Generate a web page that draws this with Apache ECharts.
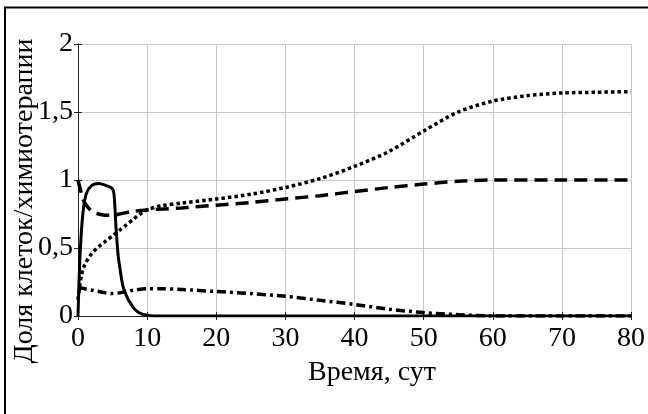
<!DOCTYPE html>
<html>
<head>
<meta charset="utf-8">
<script src="https://cdn.jsdelivr.net/npm/echarts@6/dist/echarts.min.js"></script>
<style>html,body{margin:0;padding:0;background:#fff}#c{width:648px;height:414px}</style>
</head>
<body>
<div id="c"></div>
<script>
var xTicks = [0, 10, 20, 30, 40, 50, 60, 70, 80];
var yTicks = ['0', '0,5', '1', '1,5', '2'];
var yTitle = 'Доля клеток/химиотерапии';
var xTitle = 'Время, сут';

// solid: chemotherapy
var solidT = [0, 0.3, 0.7, 1.2, 2, 3, 4, 4.9, 5.2, 5.5, 5.8, 6.1, 6.5, 7, 7.5, 8.2, 9, 10, 11, 20, 40, 60, 80];
var solidV = [0, 0.45, 0.75, 0.9, 0.96, 0.975, 0.96, 0.94, 0.9, 0.65, 0.45, 0.34, 0.22, 0.15, 0.1, 0.05, 0.02, 0.005, 0, 0, 0, 0, 0];

// dashed
var dashT = [0, 0.5, 1, 2, 3, 4, 5, 6, 8, 10, 15, 20, 25, 30, 35, 40, 45, 50, 55, 60, 70, 80];
var dashV = [1.0, 0.9, 0.83, 0.77, 0.75, 0.74, 0.74, 0.75, 0.77, 0.78, 0.795, 0.815, 0.835, 0.86, 0.885, 0.915, 0.945, 0.97, 0.99, 1.0, 1.0, 1.0];

// dotted
var dotT = [0, 0.5, 1, 2, 3, 4, 5, 6, 7, 8, 9, 10, 12, 15, 20, 25, 30, 35, 40, 45, 50, 55, 60, 65, 70, 75, 80];
var dotV = [0.12, 0.3, 0.38, 0.46, 0.51, 0.55, 0.59, 0.63, 0.67, 0.71, 0.75, 0.78, 0.81, 0.83, 0.86, 0.895, 0.945, 1.01, 1.1, 1.21, 1.36, 1.5, 1.58, 1.62, 1.64, 1.645, 1.65];

// dash-dot
var ddT = [0, 1, 2, 3, 4, 5, 6, 7, 8, 10, 12, 15, 20, 25, 30, 35, 40, 45, 50, 55, 60, 70, 80];
var ddV = [0.21, 0.2, 0.19, 0.18, 0.17, 0.165, 0.17, 0.18, 0.19, 0.2, 0.2, 0.195, 0.18, 0.165, 0.145, 0.115, 0.085, 0.05, 0.025, 0.01, 0, 0, 0];

function pairs(t, v) { return t.map(function (x, i) { return [x, v[i]]; }); }

var FONT = '"Liberation Serif", "Times New Roman", serif';
var chart = echarts.init(document.getElementById('c'), null, {renderer: 'canvas'});

function lineSeries(name, t, v, type, width) {
  return {
    name: name, type: 'line', data: pairs(t, v), showSymbol: false, smooth: 0.3,
    xAxisIndex: 0, yAxisIndex: 0,
    lineStyle: {color: '#000', width: width, type: type, cap: 'butt'},
    clip: true, animation: false
  };
}

var baseX = {type: 'value', min: 0, max: 80, interval: 10};
var baseY = {type: 'value', min: 0, max: 2, interval: 0.5};

chart.setOption({
  animation: false,
  backgroundColor: '#fff',
  grid: {left: 78, top: 44, right: 16, bottom: 98, show: false},
  xAxis: [
    Object.assign({}, baseX, {
      position: 'bottom',
      axisLine: {show: true, lineStyle: {color: '#222', width: 1}},
      axisTick: {show: true, inside: true, length: 4, lineStyle: {color: '#222'}},
      axisLabel: {margin: 9, color: '#000', fontFamily: FONT, fontSize: 28,
        formatter: function (v) { return xTicks.indexOf(v) >= 0 ? String(v) : ''; }},
      splitLine: {show: true, lineStyle: {color: '#c8c8c8', width: 1}}
    }),
    Object.assign({}, baseX, {
      position: 'top',
      axisLine: {show: true, lineStyle: {color: '#222', width: 1}},
      axisTick: {show: true, inside: true, length: 4, lineStyle: {color: '#222'}},
      axisLabel: {show: false}, splitLine: {show: false}
    })
  ],
  yAxis: [
    Object.assign({}, baseY, {
      position: 'left',
      axisLine: {show: true, lineStyle: {color: '#222', width: 1}},
      axisTick: {show: true, inside: true, length: 4, lineStyle: {color: '#222'}},
      axisLabel: {margin: 5, color: '#000', fontFamily: FONT, fontSize: 28,
        formatter: function (v) { return yTicks[Math.round(v / 0.5)]; }},
      splitLine: {show: true, lineStyle: {color: '#c8c8c8', width: 1}}
    }),
    Object.assign({}, baseY, {
      position: 'right',
      axisLine: {show: true, lineStyle: {color: '#222', width: 1}},
      axisTick: {show: true, inside: true, length: 4, lineStyle: {color: '#222'}},
      axisLabel: {show: false}, splitLine: {show: false}
    })
  ],
  series: [
    lineSeries('dashdot', ddT, ddV, [9, 4, 3, 4], 3.5),
    lineSeries('dotted', dotT, dotV, [3.5, 3], 3.5),
    lineSeries('dashed', dashT, dashV, [13, 7], 3.5),
    lineSeries('solid', solidT, solidV, 'solid', 3)
  ],
  graphic: [
    {type: 'rect', shape: {x: 5, y: 7.5, width: 700, height: 500}, style: {fill: 'none', stroke: '#000', lineWidth: 2}, silent: true},
    {type: 'text', x: 25, y: 201, rotation: Math.PI / 2,
      style: {text: yTitle, fontFamily: FONT, fontSize: 28, fill: '#000', textAlign: 'center', textVerticalAlign: 'middle'}},
    {type: 'text', x: 372, y: 373,
      style: {text: xTitle, fontFamily: FONT, fontSize: 28, fill: '#000', textAlign: 'center', textVerticalAlign: 'middle'}}
  ]
});
</script>
</body>
</html>
